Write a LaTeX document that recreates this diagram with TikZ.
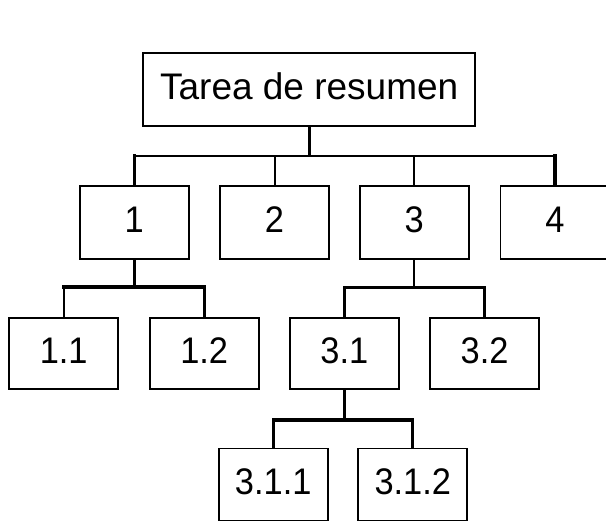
\documentclass[tikz,border=0pt]{standalone}
\usepackage{fontspec}
\setmainfont{Liberation Sans}
\newfontfamily\numfont[FakeStretch=0.93]{Liberation Sans}
\usetikzlibrary{backgrounds}
\tikzset{
  box/.style={draw=black, line width=1.8pt, fill=white, inner sep=0pt,
    minimum width=109pt, minimum height=72pt,
    font=\numfont\fontsize{37}{40}\selectfont, text height=26.5pt, text depth=6pt},
  rootbox/.style={box, font=\fontsize{37}{40}\selectfont, minimum width=331.7pt, minimum height=72.7pt},
  thk/.style={line width=3.2pt, line cap=rect},
  thn/.style={line width=2pt, line cap=rect}
}
\begin{document}
\begin{tikzpicture}[x=1pt,y=-1pt]
\useasboundingbox (0,0) rectangle (606,522);
% nodes
\node[rootbox] (root) at (309.2,89.7) {Tarea de resumen};
\node[box, minimum height=73pt] (n1) at (134.1,222.2) {1};
\node[box, minimum height=73pt] (n2) at (274.5,222.2) {2};
\node[box, minimum height=73pt] (n3) at (414.3,222.2) {3};
\node[box, minimum height=73pt] (n4) at (555,222.2) {4};
\node[box, minimum height=70.4pt] (n11) at (63.7,353.5) {1.1};
\node[box, minimum height=70.4pt] (n12) at (204.2,353.5) {1.2};
\node[box, minimum height=70.4pt] (n31) at (344.4,353.5) {3.1};
\node[box, minimum height=70.4pt] (n32) at (484.6,353.5) {3.2};
\node[box] (n311) at (273.2,484.4) {3.1.1};
\node[box] (n312) at (412.8,484.4) {3.1.2};
% junctions
\coordinate (j0) at (309.2,155.7);
\coordinate (j1) at (134.1,287);
\coordinate (j3) at (414.3,287.5);
\coordinate (j31) at (344.4,420);
\begin{scope}[on background layer]
  \fill[white] (0,0) rectangle (606,522);
  \draw[thk] (root.south) -- (j0);
  \draw[thn] (n1.north |- j0) -- (n4.north |- j0);
  \draw[thk] (n1.north |- j0) -- (n1.north);
  \draw[thn] (n2.north |- j0) -- (n2.north);
  \draw[thn] (n3.north |- j0) -- (n3.north);
  \draw[thk] (n4.north |- j0) -- (n4.north);
  % group 1
  \draw[thk] (n1.south) -- (j1);
  \draw[thk] (n11.north |- j1) -- (n12.north |- j1);
  \draw[thn] (n11.north |- j1) -- (n11.north);
  \draw[thk] (n12.north |- j1) -- (n12.north);
  % group 3
  \draw[thn] (n3.south) -- (j3);
  \draw[thk] (n31.north |- j3) -- (n32.north |- j3);
  \draw[thk] (n31.north |- j3) -- (n31.north);
  \draw[thk] (n32.north |- j3) -- (n32.north);
  % group 3.1
  \draw[thk] (n31.south) -- (j31);
  \draw[thk] (n311.north |- j31) -- (n312.north |- j31);
  \draw[thk] (n311.north |- j31) -- (n311.north);
  \draw[thk] (n312.north |- j31) -- (n312.north);
\end{scope}
\end{tikzpicture}
\end{document}
